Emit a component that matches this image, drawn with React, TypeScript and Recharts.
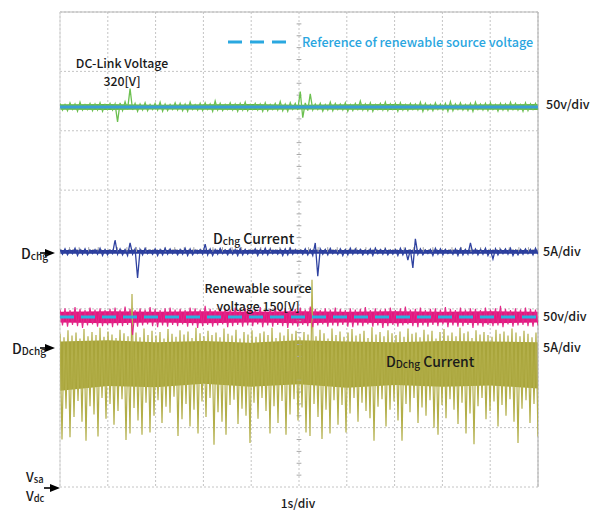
import React from 'react';
import { ComposedChart, Line, Area, XAxis, YAxis, CartesianGrid, ReferenceLine } from 'recharts';

// axes in scope divisions: 10 horizontal (1s/div), 8 vertical
const xTicks = [0, 1, 2, 3, 4, 5, 6, 7, 8, 9, 10];
const yTicks = [0, 1, 2, 3, 4, 5, 6, 7, 8];
const coreX = [0, 1, 2, 3, 4, 5, 6, 7, 8, 9, 10];

// reference levels (div)
const dcLinkRef = 6.4;
const sourceRef = 2.863;

// DC-link voltage (green)
const greenHi = [
  6.46, 6.44, 6.47, 6.45, 6.48, 6.44, 6.46, 6.45, 6.47, 6.44, 6.46, 6.45,
  6.47, 6.49, 6.71, 6.46, 6.45, 6.47, 6.44, 6.46, 6.48, 6.45, 6.44, 6.47,
  6.46, 6.45, 6.48, 6.44, 6.46, 6.47, 6.45, 6.50, 6.46, 6.44, 6.47, 6.45,
  6.46, 6.48, 6.44, 6.46, 6.45, 6.47, 6.44, 6.46, 6.49, 6.45, 6.47, 6.46,
  6.66, 6.47, 6.62, 6.45, 6.46, 6.44, 6.48, 6.46, 6.45, 6.47, 6.44, 6.46,
  6.50, 6.45, 6.47, 6.44, 6.46, 6.48, 6.45, 6.46, 6.47, 6.44, 6.46, 6.45,
  6.48, 6.46, 6.44, 6.47, 6.45, 6.46, 6.49, 6.45, 6.47, 6.44, 6.46, 6.48,
  6.45, 6.46, 6.47, 6.44, 6.46, 6.45, 6.48, 6.46, 6.44, 6.47, 6.45, 6.46,
];
const greenLo = [
  6.35, 6.34, 6.36, 6.33, 6.35, 6.36, 6.34, 6.35, 6.33, 6.36, 6.35, 6.15,
  6.34, 6.36, 6.35, 6.33, 6.35, 6.34, 6.36, 6.35, 6.33, 6.34, 6.36, 6.35,
  6.34, 6.33, 6.36, 6.35, 6.34, 6.36, 6.33, 6.35, 6.34, 6.36, 6.35, 6.33,
  6.35, 6.34, 6.36, 6.35, 6.33, 6.34, 6.36, 6.35, 6.34, 6.33, 6.36, 6.35,
  6.22, 6.34, 6.35, 6.36, 6.33, 6.35, 6.34, 6.36, 6.35, 6.33, 6.34, 6.36,
  6.35, 6.34, 6.33, 6.36, 6.35, 6.34, 6.36, 6.33, 6.35, 6.34, 6.36, 6.35,
  6.33, 6.35, 6.34, 6.36, 6.35, 6.33, 6.34, 6.36, 6.35, 6.34, 6.33, 6.36,
  6.35, 6.34, 6.36, 6.33, 6.35, 6.34, 6.36, 6.35, 6.33, 6.34, 6.36, 6.35,
];
const greenCoreLo = [6.355, 6.35, 6.36, 6.355, 6.35, 6.36, 6.355, 6.35, 6.36, 6.355, 6.35];
const greenCoreHi = [6.445, 6.45, 6.44, 6.445, 6.45, 6.44, 6.445, 6.45, 6.44, 6.445, 6.45];

// Dchg current (navy)
const navyHi = [
  4.00, 4.01, 3.99, 4.02, 4.00, 4.01, 3.99, 4.00, 4.02, 4.00, 3.99, 4.16,
  4.01, 4.00, 4.11, 4.01, 4.00, 4.02, 3.99, 4.01, 4.00, 4.02, 4.01, 3.99,
  4.00, 4.02, 4.01, 3.99, 4.00, 4.09, 4.01, 4.00, 4.02, 3.99, 4.01, 4.00,
  4.02, 4.00, 3.99, 4.01, 4.00, 4.02, 4.01, 3.99, 4.00, 4.01, 4.02, 4.00,
  3.99, 4.01, 4.00, 4.11, 4.01, 4.00, 4.02, 3.99, 4.01, 4.00, 4.02, 4.01,
  4.00, 3.99, 4.01, 4.02, 4.00, 4.01, 3.99, 4.00, 4.02, 4.01, 4.00, 4.18,
  4.01, 3.99, 4.00, 4.02, 4.01, 4.00, 3.99, 4.01, 4.02, 4.00, 4.11, 4.01,
  4.00, 4.02, 3.99, 4.01, 4.00, 4.01, 4.02, 3.99, 4.00, 4.01, 4.00, 4.02,
];
const navyLo = [
  3.92, 3.91, 3.93, 3.90, 3.92, 3.91, 3.93, 3.92, 3.90, 3.91, 3.93, 3.92,
  3.91, 3.90, 3.92, 3.52, 3.91, 3.93, 3.92, 3.90, 3.91, 3.92, 3.93, 3.91,
  3.92, 3.90, 3.91, 3.93, 3.92, 3.91, 3.90, 3.92, 3.93, 3.91, 3.92, 3.90,
  3.91, 3.92, 3.93, 3.90, 3.92, 3.91, 3.93, 3.92, 3.90, 3.91, 3.92, 3.93,
  3.92, 3.91, 3.90, 3.55, 3.92, 3.91, 3.93, 3.92, 3.90, 3.91, 3.92, 3.93,
  3.91, 3.92, 3.90, 3.93, 3.92, 3.91, 3.92, 3.90, 3.91, 3.82, 3.69, 3.92,
  3.91, 3.93, 3.90, 3.92, 3.91, 3.93, 3.92, 3.90, 3.91, 3.92, 3.93, 3.91,
  3.92, 3.90, 3.84, 3.91, 3.93, 3.92, 3.90, 3.91, 3.92, 3.93, 3.91, 3.92,
];
const navyCoreLo = [3.93, 3.93, 3.93, 3.93, 3.93, 3.93, 3.93, 3.93, 3.93, 3.93, 3.93];
const navyCoreHi = [3.99, 3.99, 3.99, 3.99, 3.99, 3.99, 3.99, 3.99, 3.99, 3.99, 3.99];

// renewable source voltage (magenta)
const magHi = [
  2.99, 3.01, 2.98, 3.03, 3.00, 2.98, 3.02, 2.99, 3.01, 2.98, 3.00, 3.02,
  2.99, 3.04, 3.00, 2.98, 3.01, 2.99, 3.03, 3.00, 2.98, 3.01, 3.02, 2.99,
  3.00, 2.98, 3.02, 3.01, 2.99, 3.05, 3.00, 2.98, 3.01, 3.00, 2.99, 3.02,
  2.98, 3.01, 3.00, 2.99, 3.03, 2.98, 3.00, 3.02, 2.99, 3.01, 2.98, 3.00,
  3.02, 2.99, 3.04, 3.00, 2.98, 3.01, 2.99, 3.02, 3.00, 2.98, 3.01, 2.99,
  3.00, 3.03, 2.98, 3.01, 2.99, 3.00, 3.02, 2.98, 3.01, 3.04, 2.99, 3.00,
  3.02, 2.98, 3.00, 3.01, 2.99, 3.03, 3.00, 2.98, 3.02, 2.99, 3.01, 3.00,
  2.98, 3.02, 2.99, 3.01, 3.05, 3.00, 2.98, 3.01, 2.99, 3.02, 3.00, 2.99,
];
const magLo = [
  2.72, 2.70, 2.73, 2.71, 2.68, 2.72, 2.74, 2.70, 2.71, 2.73, 2.69, 2.72,
  2.71, 2.73, 2.56, 2.70, 2.72, 2.74, 2.71, 2.69, 2.72, 2.70, 2.73, 2.71,
  2.74, 2.70, 2.72, 2.68, 2.71, 2.73, 2.70, 2.72, 2.74, 2.69, 2.71, 2.73,
  2.70, 2.72, 2.71, 2.74, 2.69, 2.72, 2.70, 2.73, 2.71, 2.68, 2.72, 2.70,
  2.73, 2.71, 2.69, 2.72, 2.74, 2.70, 2.72, 2.71, 2.73, 2.70, 2.69, 2.72,
  2.71, 2.74, 2.70, 2.72, 2.68, 2.71, 2.73, 2.70, 2.72, 2.74, 2.71, 2.69,
  2.72, 2.70, 2.73, 2.71, 2.74, 2.69, 2.72, 2.70, 2.71, 2.73, 2.68, 2.72,
  2.70, 2.73, 2.71, 2.72, 2.69, 2.74, 2.70, 2.72, 2.73, 2.71, 2.70, 2.72,
];
const magCoreLo = [2.77, 2.76, 2.77, 2.76, 2.77, 2.76, 2.77, 2.76, 2.77, 2.76, 2.77];
const magCoreHi = [2.95, 2.96, 2.95, 2.96, 2.95, 2.96, 2.95, 2.96, 2.95, 2.96, 2.95];

// DDchg current (olive)
const oliveHi = [
  2.58, 2.52, 2.64, 2.55, 2.60, 2.50, 2.66, 2.54, 2.61, 2.56, 2.68, 2.53,
  2.62, 2.57, 2.51, 2.65, 2.59, 2.54, 3.25, 2.60, 2.52, 2.67, 2.56, 2.63,
  2.55, 2.61, 2.50, 2.66, 2.58, 2.53, 2.64, 2.57, 2.62, 2.51, 2.68, 2.59,
  2.54, 2.63, 2.56, 2.60, 2.52, 2.67, 2.58, 2.55, 2.65, 2.50, 2.61, 2.57,
  2.64, 2.53, 2.59, 2.62, 2.56, 2.68, 2.51, 2.60, 2.55, 2.66, 2.58, 2.63,
  2.52, 2.61, 2.57, 3.49, 2.54, 2.65, 2.59, 2.50, 2.67, 2.56, 2.62, 2.53,
  2.60, 2.66, 2.55, 2.58, 2.63, 2.51, 2.69, 2.57, 2.61, 2.54, 2.64, 2.59,
  2.56, 2.62, 2.53, 2.67, 2.58, 2.60, 2.52, 2.65, 2.57, 2.63, 2.50, 2.61,
  2.66, 2.55, 2.60, 2.54, 2.68, 2.59, 2.62, 2.51, 2.64, 2.57, 2.61, 2.56,
  2.53, 2.65, 2.58, 2.62, 2.55, 2.67, 2.60, 2.54, 2.63, 2.58, 2.52, 2.60,
];
const oliveLo = [
  0.80, 1.32, 0.84, 1.18, 1.45, 1.10, 0.78, 1.36, 1.22, 0.85, 1.50, 1.15,
  1.40, 1.05, 1.28, 1.48, 0.79, 0.90, 1.33, 1.12, 0.88, 1.42, 0.92, 1.20,
  1.46, 1.08, 1.35, 1.25, 1.52, 0.86, 1.14, 1.40, 1.02, 1.30, 0.90, 1.44,
  1.18, 1.50, 0.71, 1.26, 1.10, 0.88, 1.38, 1.47, 1.06, 1.32, 1.20, 0.74,
  1.42, 1.15, 1.50, 1.28, 0.90, 1.36, 1.08, 1.45, 0.88, 1.22, 1.48, 1.12,
  1.34, 0.92, 0.86, 1.40, 1.18, 0.81, 1.30, 0.90, 1.46, 1.05, 1.38, 0.92,
  1.24, 1.50, 1.10, 1.42, 1.28, 1.16, 0.78, 1.35, 1.48, 1.02, 1.30, 1.44,
  1.12, 0.78, 1.40, 1.26, 1.50, 1.08, 1.34, 1.20, 1.46, 1.00, 0.88, 1.38,
  1.16, 1.48, 1.30, 1.06, 1.42, 0.90, 1.24, 0.72, 1.36, 1.50, 1.14, 1.28,
  1.44, 1.02, 1.38, 1.20, 1.48, 1.10, 0.74, 1.32, 1.46, 1.08, 1.40, 0.85,
];
const oliveCoreLo = [1.62, 1.70, 1.68, 1.74, 1.69, 1.73, 1.67, 1.72, 1.69, 1.71, 1.66];
const oliveCoreHi = [2.45, 2.47, 2.44, 2.46, 2.43, 2.47, 2.45, 2.44, 2.46, 2.45, 2.44];

// scope trace: sample alternates between max and min of each acquisition bucket
const toTrace = (hi: number[], lo: number[]) => {
  const step = 10 / (hi.length - 0.5);
  const out: { x: number; y: number }[] = [];
  hi.forEach((h, i) => {
    out.push({ x: i * step, y: h });
    out.push({ x: (i + 0.5) * step, y: lo[i] });
  });
  return out;
};
const toBand = (lo: number[], hi: number[]) => coreX.map((x, i) => ({ x, r: [lo[i], hi[i]] }));

const greenTrace = toTrace(greenHi, greenLo);
const navyTrace = toTrace(navyHi, navyLo);
const magTrace = toTrace(magHi, magLo);
const oliveTrace = toTrace(oliveHi, oliveLo);

// minor ticks on the centre graticule
const yMinor = Array.from({ length: 39 }, (_, i) => (i + 1) * 0.2).filter(v => Math.abs(v - Math.round(v)) > 0.01);
const xMinor = Array.from({ length: 49 }, (_, i) => (i + 1) * 0.2).filter(v => Math.abs(v - Math.round(v)) > 0.01);

const FONT = '"Noto Sans CJK KR", "Noto Sans", sans-serif';

const Txt = ({ x, y, size = 12.5, color = '#1a1a1a', center = false, lh = 1, children }: any) => (
  <div
    style={{
      position: 'absolute', left: x, top: y,
      transform: `translate(${center ? '-50%' : '0'}, -50%)`,
      fontSize: size, color, whiteSpace: 'nowrap', lineHeight: lh,
      fontWeight: 500, textAlign: center ? 'center' : 'left',
    }}
  >
    {children}
  </div>
);

const Sub = ({ children }: any) => (
  <span style={{ fontSize: '0.72em', position: 'relative', top: '0.1em' }}>{children}</span>
);

const arrow = (x1: number, x2: number, y: number) => (
  <g key={`${x2}-${y}`}>
    <line x1={x1} x2={x2 - 8} y1={y} y2={y} stroke="#000" strokeWidth={1.6} />
    <polygon points={`${x2 - 10},${y - 4} ${x2},${y} ${x2 - 10},${y + 4}`} fill="#000" />
  </g>
);

export default function App() {
  return (
    <div style={{ position: 'absolute', left: 0, top: 0, width: 590, height: 511, background: '#fff', fontFamily: FONT }}>
      <ComposedChart width={590} height={511} margin={{ top: 12, right: 52, bottom: 24, left: 60 }}>
        <XAxis type="number" dataKey="x" domain={[0, 10]} ticks={xTicks} hide allowDataOverflow />
        <YAxis type="number" domain={[0, 8]} ticks={yTicks} hide allowDataOverflow />
        <CartesianGrid
          stroke="#c4c4c4"
          strokeDasharray="2 2"
          horizontalValues={yTicks}
          verticalValues={xTicks}
        />
        <ReferenceLine y={8} stroke="#b8b8b8" strokeWidth={1.2} />
        <ReferenceLine x={10} stroke="#b8b8b8" strokeWidth={1.2} />
        <ReferenceLine x={0} stroke="#d6d6d6" />
        {yMinor.map(v => (
          <ReferenceLine key={`ym${v}`} segment={[{ x: 4.95, y: v }, { x: 5.05, y: v }]} stroke="#a8a8a8" />
        ))}
        {xMinor.map(v => (
          <ReferenceLine key={`xm${v}`} segment={[{ x: v, y: 3.96 }, { x: v, y: 4.04 }]} stroke="#a8a8a8" />
        ))}

        <Area data={toBand(oliveCoreLo, oliveCoreHi)} dataKey="r" type="linear" stroke="none" fill="#a8a43a" fillOpacity={1} isAnimationActive={false} />
        <Line data={oliveTrace} dataKey="y" type="linear" stroke="#b3af4a" strokeWidth={1.2} dot={false} activeDot={false} isAnimationActive={false} />

        <Area data={toBand(magCoreLo, magCoreHi)} dataKey="r" type="linear" stroke="none" fill="#e2177f" fillOpacity={1} isAnimationActive={false} />
        <Line data={magTrace} dataKey="y" type="linear" stroke="#e3288a" strokeWidth={1.1} dot={false} activeDot={false} isAnimationActive={false} />
        <ReferenceLine y={sourceRef} stroke="#2ab2e2" strokeWidth={3} strokeDasharray="14 7" />

        <Area data={toBand(navyCoreLo, navyCoreHi)} dataKey="r" type="linear" stroke="none" fill="#2b3d9c" fillOpacity={1} isAnimationActive={false} />
        <Line data={navyTrace} dataKey="y" type="linear" stroke="#2f42a0" strokeWidth={1.3} dot={false} activeDot={false} isAnimationActive={false} />

        <Area data={toBand(greenCoreLo, greenCoreHi)} dataKey="r" type="linear" stroke="none" fill="#62b947" fillOpacity={1} isAnimationActive={false} />
        <Line data={greenTrace} dataKey="y" type="linear" stroke="#6cc050" strokeWidth={1.3} dot={false} activeDot={false} isAnimationActive={false} />
        <ReferenceLine y={dcLinkRef} stroke="#3a9fd6" strokeWidth={3} />
      </ComposedChart>

      <svg width={590} height={511} style={{ position: 'absolute', left: 0, top: 0, pointerEvents: 'none' }}>
        <line x1={228} x2={288} y1={42} y2={42} stroke="#2aa8e0" strokeWidth={3} strokeDasharray="14 8" />
        {arrow(40, 55, 253)}
        {arrow(40, 55, 348)}
        {arrow(44, 60, 488)}
      </svg>

      <Txt x={302} y={42} size={12.6} color="#2aa6df">Reference of renewable source voltage</Txt>
      <Txt x={122} y={72} size={12.3} lh="18px" center>DC-Link Voltage<br />320[V]</Txt>
      <Txt x={546} y={104} size={12.5}>50v/div</Txt>

      <Txt x={213} y={238} size={14}>D<Sub>chg</Sub> Current</Txt>
      <Txt x={543} y={251} size={12.5}>5A/div</Txt>

      <Txt x={258} y={297} size={12.3} lh="18px" center>Renewable source<br />voltage 150[V]</Txt>
      <Txt x={543} y={316} size={12.5}>50v/div</Txt>
      <Txt x={543} y={347} size={12.5}>5A/div</Txt>

      <Txt x={386} y={361} size={14}>D<Sub>Dchg</Sub> Current</Txt>

      <Txt x={21} y={253} size={14}>D<Sub>chg</Sub></Txt>
      <Txt x={12} y={348} size={14}>D<Sub>Dchg</Sub></Txt>
      <Txt x={26} y={477} size={13}>V<Sub>sa</Sub></Txt>
      <Txt x={26} y={496} size={13}>V<Sub>dc</Sub></Txt>

      <Txt x={298} y={503} size={12} center>1s/div</Txt>
    </div>
  );
}
